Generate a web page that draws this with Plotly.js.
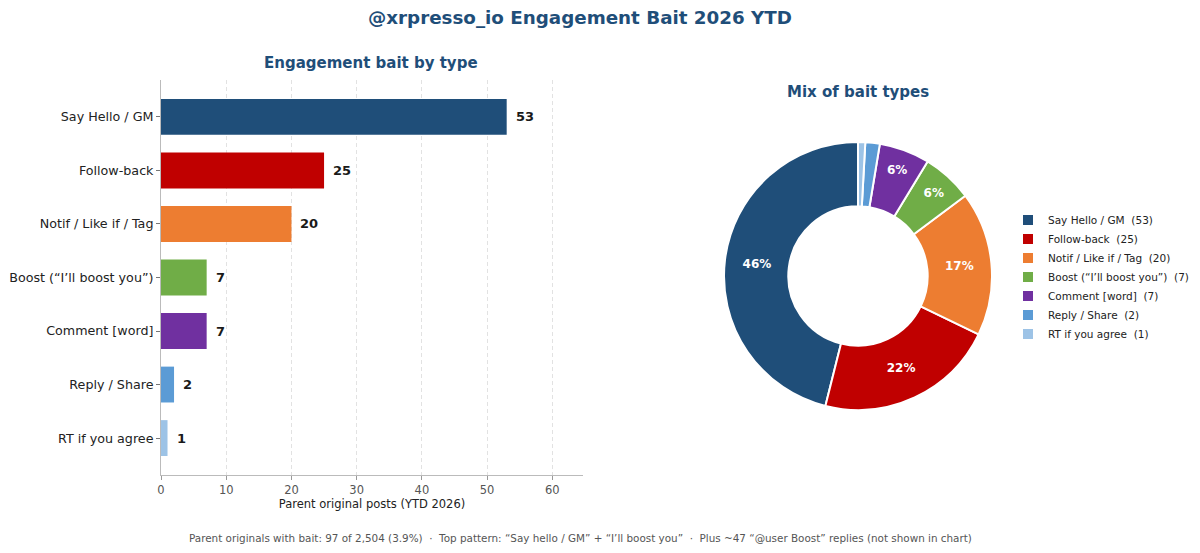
<!DOCTYPE html>
<html>
<head>
<meta charset="utf-8">
<script src="https://cdn.plot.ly/plotly-3.0.1.min.js"></script>
<style>html,body{margin:0;padding:0;background:#fff;}#chart{width:1200px;height:553px;}</style>
</head>
<body>
<div id="chart"></div>
<script>
const categories = ["Say Hello / GM", "Follow-back", "Notif / Like if / Tag", "Boost (\u201cI\u2019ll boost you\u201d)", "Comment [word]", "Reply / Share", "RT if you agree"];
const counts = [53, 25, 20, 7, 7, 2, 1];
const colors = ["#1f4e79", "#c00000", "#ed7d31", "#70ad47", "#7030a0", "#5b9bd5", "#9dc3e6"];
const xTicks = [0, 10, 20, 30, 40, 50, 60];
const mainTitle = "@xrpresso_io Engagement Bait 2026 YTD";
const barTitle = "Engagement bait by type";
const pieTitle = "Mix of bait types";
const xTitle = "Parent original posts (YTD 2026)";
const footer = "Parent originals with bait: 97 of 2,504 (3.9%)  \u00b7  Top pattern: \u201cSay hello / GM\u201d + \u201cI\u2019ll boost you\u201d  \u00b7  Plus ~47 \u201c@user Boost\u201d replies (not shown in chart)";

const FONT = "DejaVu Sans, Verdana, sans-serif";
const total = counts.reduce((a, b) => a + b, 0);

const barTrace = {
  type: "bar", orientation: "h",
  x: counts, y: categories,
  marker: { color: colors, line: { width: 0 } },
  width: 0.67,
  hoverinfo: "x+y",
  showlegend: false,
  xaxis: "x", yaxis: "y"
};

const pieTrace = {
  type: "pie",
  labels: categories.map((c, i) => c + "  (" + counts[i] + ")"),
  values: counts,
  marker: { colors: colors, line: { color: "#ffffff", width: 2 } },
  hole: 0.52,
  sort: false,
  direction: "counterclockwise",
  rotation: -counts[0] / total * 360,
  texttemplate: counts.map(v => (v / total >= 0.05 ? Math.round(v / total * 100) + "%" : "")),
  textposition: "inside",
  insidetextorientation: "horizontal",
  textfont: { color: "#ffffff", size: 12, family: FONT, weight: "bold" },
  domain: { x: [724 / 1200, 992 / 1200], y: [1 - 410 / 553, 1 - 142 / 553] },
  showlegend: true
};

const annotations = counts.map((v, i) => ({
  x: v, y: categories[i], xref: "x", yref: "y",
  text: "<b>" + v + "</b>", showarrow: false,
  xanchor: "left", yanchor: "middle", xshift: 7,
  font: { size: 13, color: "#1a1a1a", family: FONT }
}));
annotations.push(
  { text: "<b>" + mainTitle + "</b>", x: 580 / 1200, y: 1 - 17 / 553, xref: "paper", yref: "paper", showarrow: false, xanchor: "center", yanchor: "middle", font: { size: 18.3, color: "#1f4e79", family: FONT } },
  { text: "<b>" + barTitle + "</b>", x: 371 / 1200, y: 1 - 63 / 553, xref: "paper", yref: "paper", showarrow: false, xanchor: "center", yanchor: "middle", font: { size: 15, color: "#1f4e79", family: FONT } },
  { text: "<b>" + pieTitle + "</b>", x: 858 / 1200, y: 1 - 92 / 553, xref: "paper", yref: "paper", showarrow: false, xanchor: "center", yanchor: "middle", font: { size: 15, color: "#1f4e79", family: FONT } },
  { text: footer, x: 580 / 1200, y: 1 - 538 / 553, xref: "paper", yref: "paper", showarrow: false, xanchor: "center", yanchor: "middle", font: { size: 10.4, color: "#555555", family: FONT } }
);

const layout = {
  width: 1200, height: 553,
  margin: { l: 0, r: 0, t: 0, b: 0, autoexpand: false },
  paper_bgcolor: "#ffffff", plot_bgcolor: "#ffffff",
  font: { family: FONT, color: "#222222" },
  xaxis: {
    domain: [161 / 1200, 583 / 1200],
    range: [0, 64.7],
    tickvals: xTicks,
    showgrid: true, gridcolor: "#e2e2e2", griddash: "4px,3px", gridwidth: 1,
    zeroline: false,
    showline: true, linecolor: "#bbbbbb", linewidth: 1,
    ticks: "outside", ticklen: 4, tickcolor: "#999999",
    tickfont: { size: 11.5, color: "#555555", family: FONT },
    title: { text: xTitle, font: { size: 11.5, color: "#222222", family: FONT }, standoff: 2 },
    fixedrange: true
  },
  yaxis: {
    domain: [1 - 475 / 553, 1 - 80 / 553],
    type: "category",
    categoryorder: "array", categoryarray: categories,
    range: [6.69, -0.69],
    showgrid: false, zeroline: false,
    showline: true, linecolor: "#bbbbbb", linewidth: 1,
    ticks: "outside", ticklen: 4, tickcolor: "#777777",
    tickfont: { size: 12.7, color: "#222222", family: FONT },
    fixedrange: true
  },
  legend: {
    x: 1008 / 1200, xanchor: "left",
    y: 1 - 277 / 553, yanchor: "middle",
    font: { size: 10.5, color: "#222222", family: FONT },
    bgcolor: "rgba(0,0,0,0)",
    itemwidth: 30
  },
  annotations: annotations
};

Plotly.newPlot("chart", [barTrace, pieTrace], layout, { displayModeBar: false, staticPlot: true });
</script>
</body>
</html>
